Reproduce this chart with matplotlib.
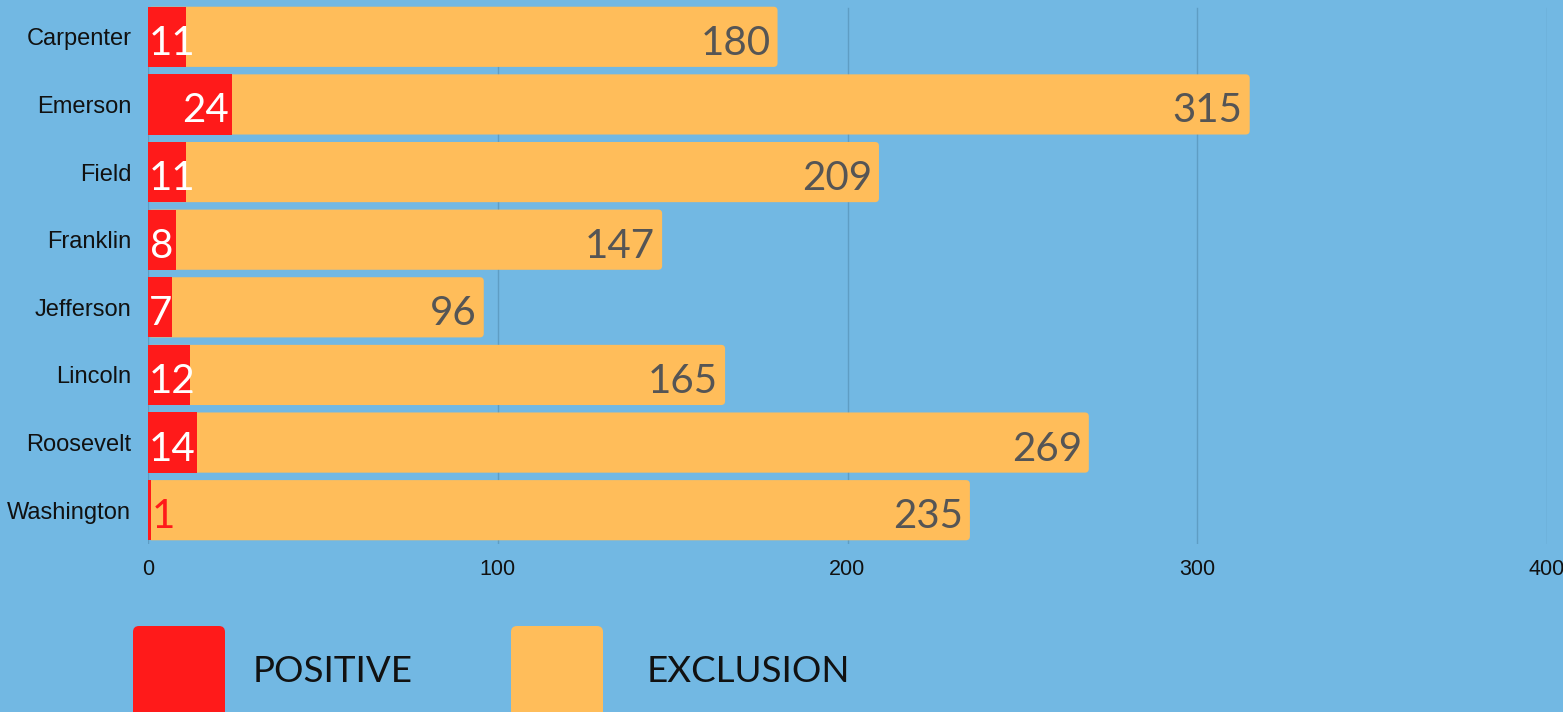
import matplotlib
matplotlib.use("Agg")
import matplotlib.pyplot as plt
from matplotlib.patches import FancyBboxPatch
from matplotlib.transforms import IdentityTransform

schools = ["Carpenter", "Emerson", "Field", "Franklin", "Jefferson", "Lincoln", "Roosevelt", "Washington"]
positive = [11, 24, 11, 8, 7, 12, 14, 1]
exclusion = [180, 315, 209, 147, 96, 165, 269, 235]
x_ticks = [0, 100, 200, 300, 400]
legend_labels = ["POSITIVE", "EXCLUSION"]

BG = "#72B8E3"
RED = "#FF1A1A"
ORANGE = "#FFBD5A"
GRID = "#5E9DC4"
VAL_FONT = ["Lato", "DejaVu Sans"]

W, H = 1563, 712
fig = plt.figure(figsize=(W / 100, H / 100), dpi=100, facecolor=BG)
ax = fig.add_axes([148 / W, 168 / H, (1547 - 148) / W, (544 - 3) / H])
ax.set_facecolor(BG)

y = list(range(len(schools)))
ax.set_xlim(0, 400)
ax.set_ylim(len(schools) - 0.5, -0.5)

# gridlines
for t in x_ticks:
    ax.plot([t, t], [len(schools) - 0.5, -0.43], color=GRID, lw=1, zorder=0)

# orange bars with rounded corners
bars = ax.barh(y, exclusion, height=0.89, color=ORANGE, zorder=1)
px_x = (1547 - 148) / 400.0
px_y = (544 - 3) / len(schools)
r_px = 4.0
for b in bars:
    bx, by, bw, bh = b.get_x(), b.get_y(), b.get_width(), b.get_height()
    b.set_visible(False)
    p = FancyBboxPatch((bx, by), bw, bh,
                       boxstyle=f"round,pad=0,rounding_size={r_px / px_x}",
                       mutation_aspect=(r_px / px_y) / (r_px / px_x),
                       facecolor=ORANGE, edgecolor="none", zorder=1)
    ax.add_patch(p)

ax.barh(y, positive, height=0.89, color=RED, zorder=2)

# value labels
dy = 0.045
renderer = fig.canvas.get_renderer()
for i, (p, e) in enumerate(zip(positive, exclusion)):
    ax.text(e - 2.0, i + dy, str(e), ha="right", va="center_baseline", fontsize=29,
            color="#555555", family=VAL_FONT, zorder=3)
    if p >= 5:
        t = ax.text(p - 0.8, i + dy, str(p), ha="right", va="center_baseline", fontsize=29,
                    color="white", family=VAL_FONT, zorder=3)
        ext = t.get_window_extent(renderer)
        x0_px = ax.transData.transform((0, 0))[0]
        if ext.x0 < x0_px:
            t.set_ha("left")
            t.set_x(0.3)
    else:
        ax.text(p + 0.2, i + dy, str(p), ha="left", va="center_baseline", fontsize=29,
                color=RED, family=VAL_FONT, zorder=3)

ax.set_yticks(y)
ax.set_yticklabels(schools, fontsize=17, family="Liberation Sans", color="#111111")
ax.set_xticks(x_ticks)
ax.set_xticklabels([str(t) for t in x_ticks], fontsize=15.5, family="Liberation Sans", color="#111111")
ax.tick_params(axis="y", length=0, pad=12)
ax.tick_params(axis="x", length=0, pad=11)
for s in ax.spines.values():
    s.set_visible(False)

# legend
ident = IdentityTransform()
for (x0, col, lab, tx) in [(133, RED, legend_labels[0], 253), (511, ORANGE, legend_labels[1], 647)]:
    rect = FancyBboxPatch((x0, -30), 92, 116, boxstyle="round,pad=0,rounding_size=6",
                          facecolor=col, edgecolor="none", transform=ident)
    fig.patches.append(rect)
    rect.set_figure(fig)
    fig.text(tx / W, 41 / H, lab, ha="left", va="center", fontsize=26.5,
             color="#111111", family=VAL_FONT)

fig.savefig("out.png", dpi=100, facecolor=BG)
